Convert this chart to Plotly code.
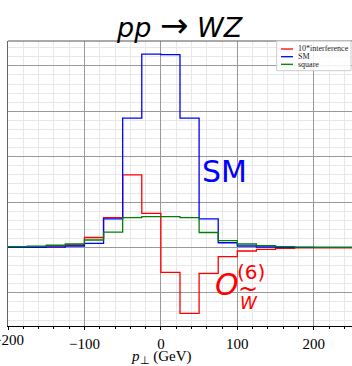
import plotly.graph_objects as go

# bin edges (GeV) and per-bin values (arbitrary units)
edges = [-200, -175, -150, -125, -100, -75, -50, -25, 0, 25, 50, 75, 100, 125, 150, 175, 200, 225, 250]
interference_x10 = [0.005, 0.005, 0.03, 0.055, 0.22, 0.66, 1.60, 0.75, -0.55, -1.45, -0.57, -0.20,
                    -0.077, -0.04, -0.018, -0.01, -0.008, -0.006]
sm = [0.003, 0.005, 0.006, 0.033, 0.09, 0.63, 2.85, 4.26, 4.25, 2.85, 0.63, 0.105,
      0.033, 0.011, 0.004, 0.002, 0.001, 0.001]
square = [0.018, 0.03, 0.05, 0.077, 0.165, 0.34, 0.66, 0.68, 0.68, 0.66, 0.33, 0.15,
          0.077, 0.04, 0.018, 0.006, 0.004, 0.003]
series_names = ["10*interference", "SM", "square"]
series_colors = ["#ff0000", "#0000ff", "#008000"]
x_tickvals = [-200, -100, 0, 100, 200]
x_ticktext = ["\u2212200", "\u2212100", "0", "100", "200"]

W, H = 352, 366
L, R, T, B = 8, 0, 41, 40
PW, PH = W - L - R, H - T - B


def px(x):
    return (x - L) / PW


def py(y):
    return (H - B - y) / PH


fig = go.Figure()
for name, vals, col in zip(series_names, [interference_x10, sm, square], series_colors):
    fig.add_trace(go.Scatter(x=edges, y=vals + [vals[-1]], mode="lines", line_shape="hv",
                             line=dict(color=col, width=1.3), name=name, showlegend=False,
                             hoverinfo="skip"))

serif = "Liberation Serif"
fig.update_layout(
    width=W, height=H, margin=dict(l=L, r=R, t=T, b=B),
    paper_bgcolor="white", plot_bgcolor="white",
    showlegend=False,
    xaxis=dict(range=[-200, 250], tickvals=x_tickvals, ticktext=x_ticktext,
               showgrid=True, gridcolor="#999999", gridwidth=1,
               zeroline=False, showline=True, linecolor="black", linewidth=1,
               ticks="outside", ticklen=3, tickcolor="black", ticklabelstandoff=1,
               tickfont=dict(family=serif, size=15, color="black"),
               minor=dict(dtick=20, tick0=0, showgrid=True, gridcolor="#e8e8e8", gridwidth=1,
                          ticks="outside", ticklen=2, tickcolor="black")),
    yaxis=dict(range=[-1.729, 4.548], dtick=1, tick0=0, showticklabels=False,
               showgrid=True, gridcolor="#999999", gridwidth=1,
               zeroline=False, showline=True, linecolor="#666666", linewidth=1,
               minor=dict(dtick=0.2, tick0=0, showgrid=True, gridcolor="#e8e8e8", gridwidth=1)),
)

# top spine
fig.add_shape(type="line", xref="paper", yref="paper", x0=0, x1=1, y0=1, y1=1,
              line=dict(color="#555555", width=1))

annotations = []
# leftmost tick label (partly cut off by the window edge, as in the reference)
annotations.append(dict(xref="x", yref="paper", x=x_tickvals[0], y=py(340), xanchor="center", yanchor="middle",
                        text=x_ticktext[0], showarrow=False, font=dict(family=serif, size=15, color="black")))
# title
annotations.append(dict(xref="paper", yref="paper", x=px(179), y=py(25), xanchor="center", yanchor="middle",
                        text="<i>pp</i> <span style='font-size:34px'>\u2192</span> <i>WZ</i>",
                        showarrow=False, font=dict(family="DejaVu Sans", size=27, color="black")))
# x label
annotations.append(dict(xref="paper", yref="paper", x=px(161), y=py(357), xanchor="center", yanchor="middle",
                        text="<i>p</i><sub>\u22a5</sub> (GeV)", showarrow=False,
                        font=dict(family=serif, size=15, color="black")))
# SM label
annotations.append(dict(xref="paper", yref="paper", x=px(224.5), y=py(171), xanchor="center", yanchor="middle",
                        text="SM", showarrow=False, font=dict(family="DejaVu Sans", size=30, color="#0000ff")))
# O^(6)_W~ label
annotations.append(dict(xref="paper", yref="paper", x=px(227), y=py(284), xanchor="center", yanchor="middle",
                        text="<i>O</i>", showarrow=False, font=dict(family="DejaVu Sans", size=30, color="#ff0000")))
annotations.append(dict(xref="paper", yref="paper", x=px(251), y=py(272), xanchor="center", yanchor="middle",
                        text="(6)", showarrow=False, font=dict(family="DejaVu Sans", size=20, color="#ff0000")))
annotations.append(dict(xref="paper", yref="paper", x=px(249), y=py(303), xanchor="center", yanchor="middle",
                        text="<i>W</i>", showarrow=False, font=dict(family="DejaVu Sans", size=17, color="#ff0000")))
annotations.append(dict(xref="paper", yref="paper", x=px(248), y=py(289), xanchor="center", yanchor="middle",
                        text="~", showarrow=False, font=dict(family="DejaVu Sans", size=24, color="#ff0000")))

# legend (manual)
fig.add_shape(type="rect", xref="paper", yref="paper", x0=px(276.7), x1=px(351), y0=py(70.7), y1=py(41),
              line=dict(color="#cccccc", width=1), fillcolor="rgba(255,255,255,0.85)")
rows = [49, 56.7, 64.3]
for name, col, ry in zip(series_names, series_colors, rows):
    fig.add_shape(type="line", xref="paper", yref="paper", x0=px(281), x1=px(293), y0=py(ry), y1=py(ry),
                  line=dict(color=col, width=1.3))
    annotations.append(dict(xref="paper", yref="paper", x=px(296), y=py(ry), xanchor="left", yanchor="middle",
                            text=name, showarrow=False, font=dict(family=serif, size=8, color="#222222")))

fig.update_layout(annotations=annotations)
fig.write_html("out.html")
